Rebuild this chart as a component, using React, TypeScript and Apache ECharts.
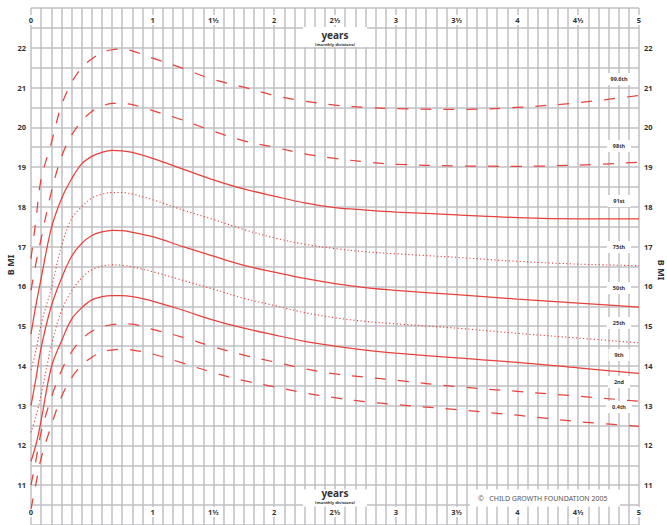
import React, { useEffect, useRef } from 'react';
import * as echarts from 'echarts';

const months = [0, 0.5, 1, 2, 3, 4, 5, 6, 7, 8, 9, 10, 12, 15, 18, 21, 24, 27, 30, 33, 36, 42, 48, 54, 60];

const p996 = [16.7, 17.7, 18.7, 19.6, 20.55, 21.12, 21.5, 21.72, 21.88, 21.95, 21.97, 21.92, 21.74, 21.48, 21.2, 21.01, 20.8, 20.66, 20.56, 20.5, 20.47, 20.45, 20.5, 20.62, 20.8];
const p98 = [15.9, 16.6, 17.2, 18.37, 19.25, 19.8, 20.15, 20.4, 20.53, 20.6, 20.6, 20.57, 20.42, 20.18, 19.9, 19.66, 19.5, 19.33, 19.22, 19.13, 19.07, 19.03, 19.02, 19.05, 19.12];
const p91 = [14.8, 15.55, 16.2, 17.46, 18.2, 18.7, 19.08, 19.27, 19.37, 19.42, 19.41, 19.37, 19.22, 18.95, 18.68, 18.45, 18.27, 18.1, 17.98, 17.92, 17.87, 17.8, 17.73, 17.7, 17.7];
const p75 = [13.9, 14.4, 15.05, 15.95, 17.0, 17.7, 18.0, 18.22, 18.32, 18.36, 18.36, 18.32, 18.18, 17.92, 17.68, 17.43, 17.22, 17.06, 16.95, 16.87, 16.82, 16.73, 16.63, 16.56, 16.52];
const p50 = [13.0, 13.7, 14.46, 15.5, 16.2, 16.75, 17.08, 17.28, 17.37, 17.41, 17.4, 17.36, 17.25, 17.0, 16.76, 16.53, 16.36, 16.2, 16.07, 15.97, 15.9, 15.79, 15.68, 15.58, 15.48];
const p25 = [12.33, 12.75, 13.28, 14.5, 15.38, 15.88, 16.21, 16.42, 16.51, 16.54, 16.53, 16.49, 16.37, 16.15, 15.93, 15.7, 15.52, 15.34, 15.21, 15.12, 15.06, 14.95, 14.82, 14.7, 14.58];
const p9 = [11.6, 12.03, 12.63, 13.96, 14.62, 15.17, 15.46, 15.66, 15.74, 15.77, 15.77, 15.74, 15.63, 15.4, 15.15, 14.95, 14.78, 14.62, 14.5, 14.4, 14.32, 14.2, 14.09, 13.95, 13.81];
const p2 = [11.0, 11.65, 12.33, 13.2, 13.88, 14.35, 14.67, 14.87, 14.98, 15.04, 15.06, 15.05, 14.92, 14.72, 14.48, 14.27, 14.1, 13.93, 13.8, 13.72, 13.64, 13.48, 13.36, 13.24, 13.11];
const p04 = [10.4, 11.05, 11.68, 12.5, 13.22, 13.7, 14.02, 14.22, 14.35, 14.4, 14.42, 14.4, 14.3, 14.07, 13.83, 13.63, 13.48, 13.32, 13.2, 13.1, 13.03, 12.9, 12.76, 12.6, 12.48];

const yearLabels: Record<number, string> = {
  0: '0', 12: '1', 18: '1½', 24: '2', 30: '2½', 36: '3', 42: '3½', 48: '4', 54: '4½', 60: '5',
};

const percentileNames = ['99.6th', '98th', '91st', '75th', '50th', '25th', '9th', '2nd', '0.4th'];
const percentileLabelY = [79, 146, 201, 247, 288, 323, 355, 382, 407];

const RED = '#e8413c';
const GRIDC = '#c0c0c5';
const FONT = '"Noto Sans", "Open Sans", sans-serif';

type Kind = 'dash' | 'solid' | 'dot';
const seriesDefs: { name: string; data: number[]; kind: Kind }[] = [
  { name: '99.6th', data: p996, kind: 'dash' },
  { name: '98th', data: p98, kind: 'dash' },
  { name: '91st', data: p91, kind: 'solid' },
  { name: '75th', data: p75, kind: 'dot' },
  { name: '50th', data: p50, kind: 'solid' },
  { name: '25th', data: p25, kind: 'dot' },
  { name: '9th', data: p9, kind: 'solid' },
  { name: '2nd', data: p2, kind: 'dash' },
  { name: '0.4th', data: p04, kind: 'dash' },
];

export default function App() {
  const ref = useRef<HTMLDivElement>(null);
  useEffect(() => {
    if (!ref.current) return;
    const chart = echarts.init(ref.current, undefined, { renderer: 'svg' });
    const labelRich = {
      a: {
        backgroundColor: '#ffffff',
        padding: [1, 3],
        fontSize: 7.5,
        fontWeight: 'bold',
        color: '#333',
        fontFamily: FONT,
      },
    };
    const fmtYear = (v: number) => (yearLabels[v] !== undefined ? `{a|${yearLabels[v]}}` : '');
    const fmtBmi = (v: number) => (Number.isInteger(v) && v >= 11 && v <= 22 ? String(v) : '');

    const series = seriesDefs.map((d) => ({
      name: d.name,
      type: 'line',
      xAxisIndex: 0,
      yAxisIndex: 0,
      data: months.map((m, i) => [m, d.data[i]]),
      smooth: 0.35,
      symbol: 'none',
      z: 5,
      lineStyle: {
        color: RED,
        width: d.kind === 'dot' ? 1.1 : 1.25,
        type: d.kind === 'dash' ? [11, 12] : d.kind === 'dot' ? [1.2, 2.4] : 'solid',
      },
    }));

    const graphics: any[] = [];
    const yearsBox = (yTop: number, h: number, ty1: number, ty2: number) => [
      { type: 'rect', shape: { x: 303, y: yTop, width: 64, height: h }, style: { fill: '#fff' }, z: 100 },
      { type: 'text', z: 101, style: { text: 'years', x: 335, y: ty1, align: 'center', verticalAlign: 'middle', fontSize: 10, fontWeight: 'bold', fill: '#333', fontFamily: FONT } },
      { type: 'text', z: 101, style: { text: '(monthly divisions)', x: 335, y: ty2, align: 'center', verticalAlign: 'middle', fontSize: 4.2, fontWeight: 'bold', fill: '#333', fontFamily: FONT } },
    ];
    graphics.push(...yearsBox(27, 20, 34.5, 44.2));
    graphics.push(...yearsBox(489.5, 17, 493.2, 502.8));
    graphics.push({ type: 'rect', shape: { x: 470, y: 489.5, width: 150, height: 17 }, style: { fill: '#fff' }, z: 100 });
    graphics.push({ type: 'text', z: 101, style: { text: '©   CHILD GROWTH FOUNDATION 2005', x: 478, y: 498, align: 'left', verticalAlign: 'middle', fontSize: 7, fill: '#555', fontFamily: FONT } });
    percentileNames.forEach((n, i) => {
      graphics.push({
        type: 'text', z: 101,
        style: {
          text: n, x: 619, y: percentileLabelY[i], align: 'center', verticalAlign: 'middle',
          fontSize: 5.5, fontWeight: 'bold', fill: '#333', fontFamily: FONT,
          backgroundColor: '#fff', padding: [3, 6],
        },
      });
    });
    graphics.push({ type: 'text', z: 101, x: 10, y: 265, rotation: Math.PI / 2, style: { text: 'B MI', x: 0, y: 0, align: 'center', verticalAlign: 'middle', fontSize: 9, fontWeight: 'bold', fill: '#333', fontFamily: FONT } });
    graphics.push({ type: 'text', z: 101, x: 661, y: 270, rotation: -Math.PI / 2, style: { text: 'B MI', x: 0, y: 0, align: 'center', verticalAlign: 'middle', fontSize: 9, fontWeight: 'bold', fill: '#333', fontFamily: FONT } });

    chart.setOption({
      animation: false,
      backgroundColor: '#ffffff',
      grid: { left: 31, top: 8, width: 608, height: 520, containLabel: false },
      xAxis: [
        {
          type: 'value', min: 0, max: 60, interval: 1, position: 'bottom',
          axisLine: { show: false }, axisTick: { show: false }, axisLabel: { show: false },
          splitLine: { show: true, lineStyle: { color: GRIDC, width: 1.5 } },
        },
        {
          type: 'value', min: 0, max: 60, interval: 6, position: 'top',
          axisLine: { show: false }, axisTick: { show: false }, splitLine: { show: false },
          axisLabel: { show: true, inside: true, margin: 7, interval: 0, formatter: fmtYear, rich: labelRich, showMinLabel: true, showMaxLabel: true },
        },
        {
          type: 'value', min: 0, max: 60, interval: 6, position: 'bottom',
          axisLine: { show: false }, axisTick: { show: false }, splitLine: { show: false },
          axisLabel: { show: true, inside: true, margin: 8, interval: 0, formatter: fmtYear, rich: labelRich, showMinLabel: true, showMaxLabel: true },
        },
      ],
      yAxis: [
        {
          type: 'value', min: 10, max: 23, interval: 0.5, position: 'left',
          axisLine: { show: false }, axisTick: { show: false },
          splitLine: { show: true, lineStyle: { color: GRIDC, width: 1.5 } },
          axisLabel: { show: true, margin: 5, formatter: fmtBmi, fontSize: 7.5, fontWeight: 'bold', color: '#333', fontFamily: FONT },
        },
        {
          type: 'value', min: 10, max: 23, interval: 0.5, position: 'right',
          axisLine: { show: false }, axisTick: { show: false }, splitLine: { show: false },
          axisLabel: { show: true, margin: 5, formatter: fmtBmi, fontSize: 7.5, fontWeight: 'bold', color: '#333', fontFamily: FONT },
        },
      ],
      series,
      graphic: graphics,
    });
    return () => chart.dispose();
  }, []);
  return <div ref={ref} style={{ position: 'fixed', left: 0, top: 0, width: 667, height: 525 }} />;
}
